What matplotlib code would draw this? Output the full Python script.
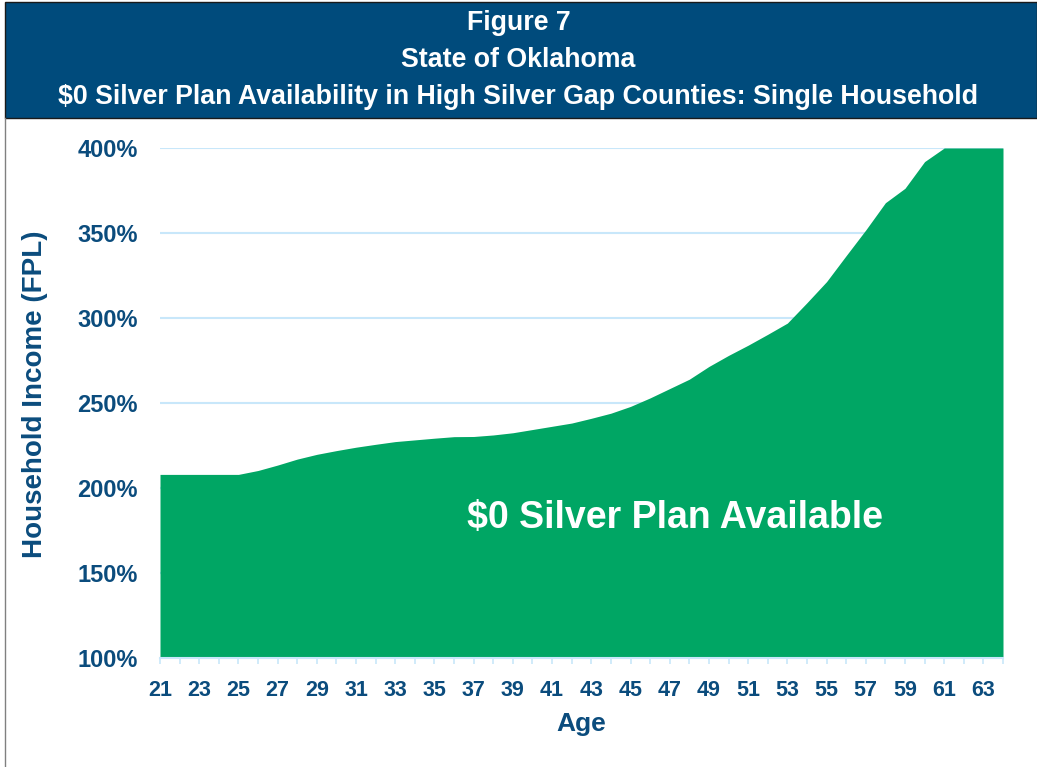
import matplotlib
matplotlib.use('Agg')
import matplotlib.pyplot as plt
from matplotlib.patches import Rectangle
from matplotlib.lines import Line2D

plt.rcParams['font.family'] = ['Liberation Sans', 'DejaVu Sans']

# Income threshold (% FPL) below which a $0 silver plan is available, by age
ages = list(range(21, 65))
income_fpl = [208, 208, 208, 208, 208, 210.3, 213.5, 217, 219.8, 222,
              224, 225.7, 227.3, 228.3, 229.3, 230.2, 230.3, 231.2, 232.5, 234.4,
              236.3, 238.2, 241, 244, 248, 253, 258.5, 264, 271.5, 278,
              284, 290.4, 297, 309, 321.4, 336.7, 351.8, 367.8, 376.3, 392,
              400, 400, 400, 400]
y_ticks = [100, 150, 200, 250, 300, 350, 400]
x_labels = [str(a) if (a - 21) % 2 == 0 else '' for a in ages]

title_lines = ['Figure 7', 'State of Oklahoma',
               '$0 Silver Plan Availability in High Silver Gap Counties: Single Household']

navy = '#004B7C'
text_blue = '#0B4C7D'
green = '#00A664'
grid_blue = '#C8E7FA'

fig = plt.figure(figsize=(10.37, 7.67), dpi=100)

# header band
fig.patches.append(Rectangle((5 / 1037, 1 - 118 / 767), 1 - 5 / 1037, 116 / 767,
                             transform=fig.transFigure, facecolor=navy,
                             edgecolor='#1a1a1a', linewidth=1))
fig.lines.append(Line2D([5 / 1037, 5 / 1037], [0, 1 - 118 / 767],
                        transform=fig.transFigure, color='#808080', linewidth=1))
for i, line in enumerate(title_lines):
    fig.text(0.5, 1 - (23 + i * 37) / 767, line, ha='center', va='center',
             color='white', fontsize=19.3, fontweight='bold')

ax = fig.add_axes([160 / 1037, 1 - 658 / 767, 843 / 1037, 510 / 767])
ax.fill_between(ages, 100, income_fpl, color=green, linewidth=0, zorder=2)
ax.set_xlim(21, 64)
ax.set_ylim(100, 400)

ax.set_yticks(y_ticks)
ax.set_yticklabels([f'{v}%' for v in y_ticks])
ax.set_xticks(ages)
ax.set_xticklabels(x_labels)
ax.grid(axis='y', color=grid_blue, linewidth=1.5, zorder=0)
ax.set_axisbelow(True)

for side in ['top', 'right', 'left']:
    ax.spines[side].set_visible(False)
ax.spines['bottom'].set_color(grid_blue)
ax.spines['bottom'].set_linewidth(1.5)
ax.spines['bottom'].set_zorder(3)

ax.tick_params(axis='y', length=0, pad=16, labelsize=17, labelcolor=text_blue)
ax.tick_params(axis='x', length=4.5, width=1.2, color=grid_blue, pad=11,
               labelsize=15.5, labelcolor=text_blue)
for lbl in ax.get_xticklabels() + ax.get_yticklabels():
    lbl.set_fontweight('bold')

ax.set_xlabel('Age', fontsize=19, fontweight='bold', color=text_blue, labelpad=8)
ax.set_ylabel('Household Income (FPL)', fontsize=20, fontweight='bold',
              color=text_blue)
ax.yaxis.set_label_coords(-0.133, 0.517)

fig.text(675 / 1037, 1 - 518 / 767, '$0 Silver Plan Available', ha='center',
         va='center', color='white', fontsize=27, fontweight='bold')

fig.savefig('out.png', dpi=100)
